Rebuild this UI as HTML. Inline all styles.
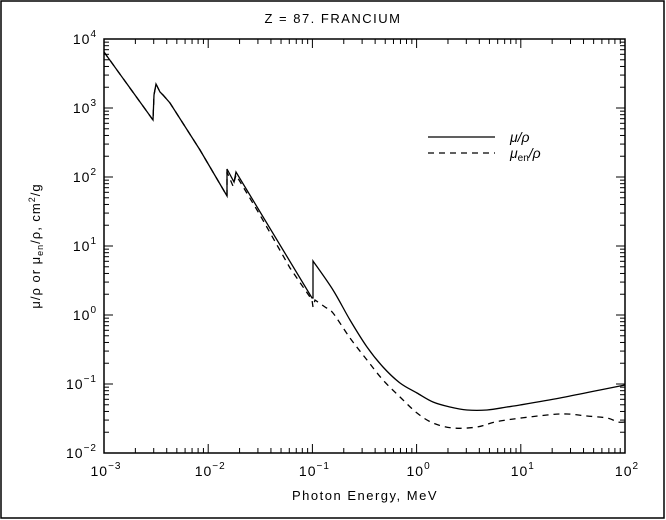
<!DOCTYPE html>
<html><head><meta charset="utf-8"><style>
html,body{margin:0;padding:0;background:#fff}
svg{display:block}
text{font-family:"Liberation Sans",sans-serif;fill:#000}
</style></head><body>
<svg id="s" width="666" height="520" viewBox="0 0 666 520" xmlns="http://www.w3.org/2000/svg">
<rect x="1" y="1" width="663" height="517" fill="#fff" stroke="#000" stroke-width="1.5"/>
<rect x="104" y="39" width="521" height="414" fill="none" stroke="#000" stroke-width="1.5"/>
<g id="ticks" stroke="#000" stroke-width="1"></g>
<text x="333" y="23" font-size="13" text-anchor="middle" letter-spacing="1.5">Z = 87.  FRANCIUM</text>
<g font-size="14" id="xl"></g>
<g font-size="14" id="yl"></g>
<text x="365" y="500" font-size="13" text-anchor="middle" letter-spacing="1.5">Photon Energy, MeV</text>
<text transform="translate(40,246) rotate(-90)" font-size="13" text-anchor="middle" letter-spacing="1">μ/ρ or μ<tspan font-size="9" dy="3">en</tspan><tspan dy="-3">/ρ, cm</tspan><tspan font-size="9" dy="-5">2</tspan><tspan dy="5">/g</tspan></text>
<g id="curves" fill="none" stroke="#000" stroke-width="1.3"></g>
<line x1="428" y1="137" x2="495" y2="137" stroke="#000" stroke-width="1.3"/>
<line x1="428" y1="153" x2="495" y2="153" stroke="#000" stroke-width="1.3" stroke-dasharray="6,5"/>
<text x="510" y="142" font-size="14" font-style="italic">μ/ρ</text>
<text x="510" y="158" font-size="14" font-style="italic">μ<tspan font-size="10" dy="3" font-style="normal">en</tspan><tspan dy="-3">/ρ</tspan></text>
</svg>
<script>
var NS="http://www.w3.org/2000/svg",t=document.getElementById("ticks");
function L(a,b,c,d){var l=document.createElementNS(NS,"line");l.setAttribute("x1",a);l.setAttribute("y1",b);l.setAttribute("x2",c);l.setAttribute("y2",d);t.appendChild(l);}
var X0=104,X1=625,Y0=39,Y1=453,dx=(X1-X0)/5,dy=(Y1-Y0)/6;
for(var d=0;d<5;d++)for(var k=1;k<10;k++){var x=X0+dx*(d+Math.log10(k));var len=k==1?9:5;L(x,Y1,x,Y1-len);L(x,Y0,x,Y0+len);}
for(var d=0;d<6;d++)for(var k=1;k<10;k++){var y=Y1-dy*(d+Math.log10(k));var len=k==1?9:5;L(X0,y,X0+len,y);L(X1,y,X1-len,y);}
function lab(g,x,y,e,anchor){var tx=document.createElementNS(NS,"text");tx.setAttribute("x",x);tx.setAttribute("y",y);tx.setAttribute("text-anchor",anchor);tx.setAttribute("letter-spacing","1");tx.innerHTML='10<tspan font-size="10" dy="-7">'+e+'</tspan>';document.getElementById(g).appendChild(tx);}
var xe=["−3","−2","−1","0","1","2"];
for(var i=0;i<6;i++)lab("xl",X0+dx*i+2,476,xe[i],"middle");
var ye=["−2","−1","0","1","2","3","4"];
for(var i=0;i<7;i++)lab("yl",97,Y1-dy*i+5,ye[i],"end");
function cr(p){var s="M"+p[0][0]+","+p[0][1];for(var i=0;i<p.length-1;i++){var a=p[Math.max(i-1,0)],b=p[i],c=p[i+1],d=p[Math.min(i+2,p.length-1)];s+=" C"+(b[0]+(c[0]-a[0])/6)+","+(b[1]+(c[1]-a[1])/6)+" "+(c[0]-(d[0]-b[0])/6)+","+(c[1]-(d[1]-b[1])/6)+" "+c[0]+","+c[1];}return s;}
function path(pre,smooth,dash){var s="M"+pre.map(function(q){return q.join(",")}).join(" L");s+=" "+cr(smooth).replace("M","L");var p=document.createElementNS(NS,"path");p.setAttribute("d",s);if(dash)p.setAttribute("stroke-dasharray","6,5");document.getElementById("curves").appendChild(p);}
path([[104,52],[153,120],[154,95],[156,84],[160,92],[163,95],[170,103],[200,150],[227,196],[227,169],[234,182],[236,172],[312,298],[313,298]],
[[313,261],[333,290],[350,320],[367,347],[383,367],[400,383],[417,393],[433,402],[450,407],[467,410],[487,410],[507,407],[520,405],[560,398],[600,390],[625,385]],false);
path([[104,52],[153,120],[154,95],[156,84],[160,92],[163,95],[170,103],[200,150],[227,196],[227,172],[233,186],[236,175],[260,215],[290,268],[312,300],[313,307]],
[[315,300],[325,307],[333,313],[350,338],[367,360],[383,380],[400,397],[417,413],[433,423],[453,428],[477,427],[500,421],[547,415],[567,414],[587,416],[607,418],[618,422],[625,422]],true);
</script>
</body></html>
